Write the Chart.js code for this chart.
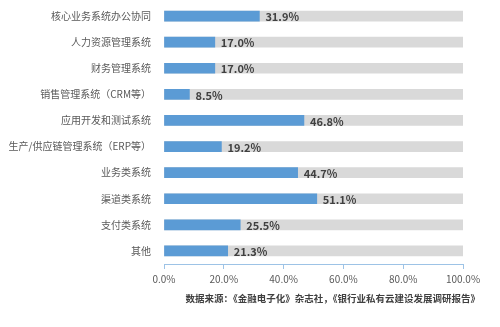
<!DOCTYPE html>
<html>
<head>
<meta charset="utf-8">
<script src="https://cdn.jsdelivr.net/npm/chart.js@4"></script>
<style>
  html, body { margin: 0; padding: 0; background: #fff; }
  #wrap { width: 500px; height: 327px; }
</style>
</head>
<body>
<div id="wrap"><canvas id="chart" width="500" height="327"></canvas></div>
<script>
// Chart data
const categories = ['核心业务系统办公协同', '人力资源管理系统', '财务管理系统', '销售管理系统（CRM等）',
    '应用开发和测试系统', '生产/供应链管理系统（ERP等）', '业务类系统', '渠道类系统', '支付类系统', '其他'];
const shares = [31.9, 17.0, 17.0, 8.5, 46.8, 19.2, 44.7, 51.1, 25.5, 21.3];
const fullTrack = [100, 100, 100, 100, 100, 100, 100, 100, 100, 100];
const xTicks = [0, 20, 40, 60, 80, 100];
const sourceNote = '数据来源：《金融电子化》杂志社，《银行业私有云建设发展调研报告》';

const FONT = '"Noto Sans CJK SC", "Noto Sans", sans-serif';

// Value labels next to the blue bars
const valueLabels = {
    id: 'valueLabels',
    afterDatasetsDraw(chart) {
        const ctx = chart.ctx;
        const meta = chart.getDatasetMeta(0);
        ctx.save();
        ctx.font = 'bold 11px ' + FONT;
        ctx.fillStyle = '#404040';
        ctx.textAlign = 'left';
        ctx.textBaseline = 'middle';
        meta.data.forEach((bar, i) => {
            ctx.fillText(shares[i].toFixed(1) + '%', bar.x + 6, bar.y + 1);
        });
        ctx.restore();
    }
};

// Source line under the axis
const sourceText = {
    id: 'sourceText',
    afterDraw(chart) {
        const ctx = chart.ctx;
        ctx.save();
        ctx.font = 'bold 9.5px ' + FONT;
        ctx.fillStyle = '#404040';
        ctx.textAlign = 'right';
        ctx.textBaseline = 'middle';
        ctx.fillText(sourceNote, 480, 298);
        ctx.restore();
    }
};

new Chart(document.getElementById('chart'), {
    type: 'bar',
    data: {
        labels: categories,
        datasets: [{
            data: shares,
            backgroundColor: '#5B9BD5',
            barThickness: 10,
            grouped: false
        }, {
            data: fullTrack,
            backgroundColor: '#D9D9D9',
            barThickness: 10,
            grouped: false
        }]
    },
    options: {
        indexAxis: 'y',
        responsive: false,
        animation: false,
        events: [],
        layout: { padding: { top: 3, right: 37, bottom: 0, left: 0 } },
        plugins: {
            legend: { display: false },
            tooltip: { enabled: false }
        },
        scales: {
            x: {
                min: 0,
                max: 100,
                afterBuildTicks: scale => { scale.ticks = xTicks.map(v => ({ value: v })); },
                afterFit: scale => {
                    scale.height = 63;
                    scale.paddingTop = 0;
                    scale.paddingBottom = 0;
                },
                border: { color: '#9DC3E6', width: 1 },
                grid: { drawOnChartArea: false, drawTicks: true, tickLength: 5, color: '#9DC3E6' },
                ticks: {
                    color: '#595959',
                    font: { family: FONT, size: 10 },
                    padding: 4,
                    callback: v => v.toFixed(1) + '%'
                }
            },
            y: {
                afterFit: scale => {
                    scale.width = 164;
                    scale.paddingTop = 0;
                    scale.paddingBottom = 0;
                },
                border: { display: false },
                grid: { display: false, drawTicks: false },
                ticks: {
                    color: '#595959',
                    font: { family: FONT, size: 10 },
                    padding: 13
                }
            }
        }
    },
    plugins: [valueLabels, sourceText]
});
</script>
</body>
</html>
